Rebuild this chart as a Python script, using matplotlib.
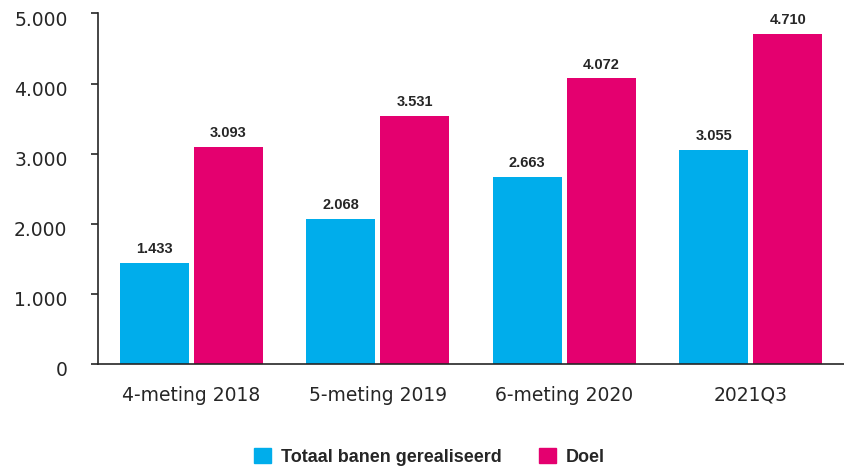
import matplotlib
matplotlib.use("Agg")
import matplotlib.pyplot as plt
import matplotlib.transforms as mtransforms
from matplotlib.patches import Patch
from matplotlib.ticker import FuncFormatter
import numpy as np

categories = ["4-meting 2018", "5-meting 2019", "6-meting 2020", "2021Q3"]
gerealiseerd = [1433, 2068, 2663, 3055]
doel = [3093, 3531, 4072, 4710]
series_names = ["Totaal banen gerealiseerd", "Doel"]
yticks = [0, 1000, 2000, 3000, 4000, 5000]

BLUE = "#00adeb"
PINK = "#e4006f"
TXT = "#262626"

def nl(v):
    return f"{int(v):,}".replace(",", ".")

fig = plt.figure(figsize=(8.44, 4.68), dpi=100)
ax = fig.add_axes([98/844, 104.3/468, 1 - 98/844, (454.5 - 104.3)/468])

x = np.arange(len(categories))
w = 0.37
off = 0.1985
b1 = ax.bar(x - off, gerealiseerd, w, color=BLUE, label=series_names[0])
b2 = ax.bar(x + off, doel, w, color=PINK, label=series_names[1])

for bars in (b1, b2):
    for r in bars:
        ax.annotate(nl(r.get_height()), (r.get_x() + r.get_width()/2, r.get_height()),
                    xytext=(0, 5), textcoords="offset points", ha="center", va="bottom",
                    fontsize=10.5, fontweight="bold", family="Liberation Sans", color=TXT)

ax.set_xlim(-0.5, 3.5)
ax.set_ylim(0, 5000)
ax.set_yticks(yticks)
ax.yaxis.set_major_formatter(FuncFormatter(lambda v, p: nl(v)))
ax.set_xticks(x)
ax.set_xticklabels(categories)

for s in ("top", "right"):
    ax.spines[s].set_visible(False)
for s in ("left", "bottom"):
    ax.spines[s].set_color(TXT)
    ax.spines[s].set_linewidth(1.2)

ax.tick_params(axis="y", length=5, width=1.2, color=TXT, pad=17, labelsize=13.5, labelcolor=TXT)
ax.tick_params(axis="x", length=0, pad=16, labelsize=13.5, labelcolor=TXT)

shift = mtransforms.ScaledTranslation(0, -5/100, fig.dpi_scale_trans)
for lab in ax.get_yticklabels():
    lab.set_transform(lab.get_transform() + shift)

handles = [Patch(color=BLUE), Patch(color=PINK)]
fig.legend(handles, series_names, loc="center", bbox_to_anchor=(0.509, 0.0235), ncol=2,
           frameon=False, prop={"family": "Liberation Sans", "weight": "bold", "size": 13},
           handlelength=0.95, handleheight=0.9, handletextpad=0.55, columnspacing=2.05,
           labelcolor=TXT, borderpad=0, borderaxespad=0)

fig.savefig("out.png", dpi=100)
